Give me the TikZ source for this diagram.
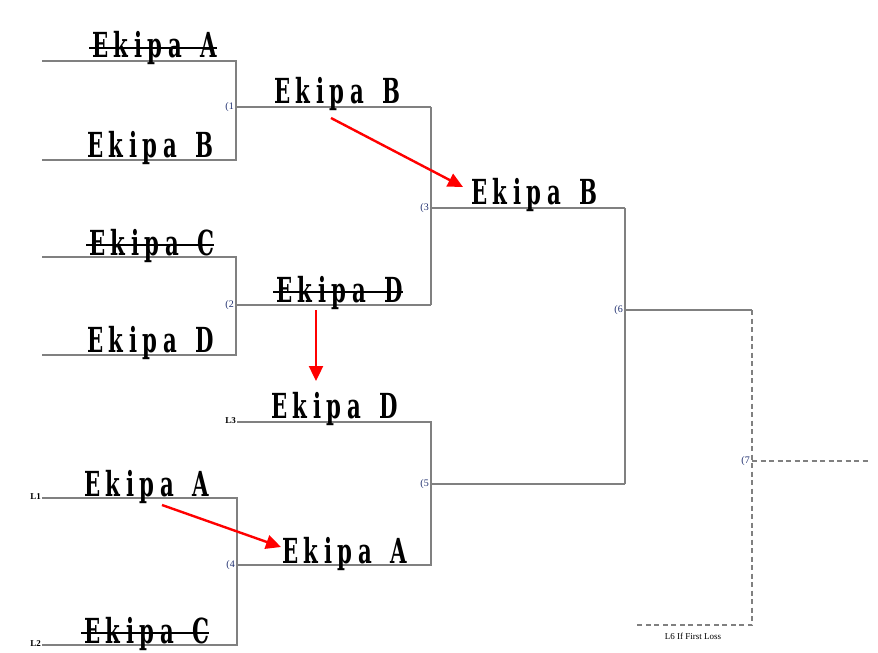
\documentclass[tikz,border=0pt]{standalone}
\usepackage{fontspec}
\usetikzlibrary{arrows.meta}
\newfontfamily\ekfont[LetterSpace=26,WordSpace=1.4]{DejaVu Serif}
\newfontfamily\smallfont{Liberation Serif}
\definecolor{brline}{HTML}{808080}
\definecolor{numblue}{HTML}{1F2F6F}
\tikzset{
  brk/.style={draw=brline, line width=1.1pt},
  brkdash/.style={draw=brline, line width=1.1pt, dash pattern=on 5pt off 3.5pt},
  team/.style={inner sep=0pt, anchor=base west, font=\ekfont\bfseries\fontsize{25}{25}\selectfont},
  strike/.style={draw=black, line width=1.6pt},
  num/.style={inner sep=0pt, anchor=east, text=numblue, font=\smallfont\fontsize{10}{10}\selectfont},
  lbl/.style={inner sep=0pt, anchor=east, text=black, font=\smallfont\bfseries\fontsize{9}{9}\selectfont},
  redarrow/.style={draw=red, line width=2.4pt, -{Triangle[length=15pt,width=14pt]}},
}
\newcommand{\tall}[1]{\scalebox{0.85}[1.38]{#1}}
\begin{document}
\begin{tikzpicture}[x=1pt,y=-1pt]
\useasboundingbox[fill=white] (0,0) rectangle (878,653);

% bracket coordinates
\coordinate (a1) at (42,61);   \coordinate (a2) at (236,61);
\coordinate (b1) at (42,160);  \coordinate (b2) at (236,160);
\coordinate (m1) at (236,107); \coordinate (m1e) at (431,107);
\coordinate (c1) at (42,257);  \coordinate (c2) at (236,257);
\coordinate (d1) at (42,355);  \coordinate (d2) at (236,355);
\coordinate (m2) at (236,305); \coordinate (m2e) at (431,305);
\coordinate (m3) at (431,208); \coordinate (m3e) at (625,208);
\coordinate (l3a) at (237,422); \coordinate (l3b) at (431,422);
\coordinate (m4) at (237,565); \coordinate (m4e) at (431,565);
\coordinate (m5) at (431,484); \coordinate (m5e) at (625,484);
\coordinate (l1a) at (42,498); \coordinate (l1b) at (237,498);
\coordinate (l2a) at (42,645); \coordinate (l2b) at (237,645);
\coordinate (m6) at (625,310); \coordinate (m6e) at (752,310);
\coordinate (m7) at (752,461); \coordinate (m7e) at (870,461);
\coordinate (l6a) at (635,625); \coordinate (l6b) at (752,625);

% bracket lines
\draw[brk] (a1) -- (a2) -- (b2) -- (b1);
\draw[brk] (m1) -- (m1e);
\draw[brk] (c1) -- (c2) -- (d2) -- (d1);
\draw[brk] (m2) -- (m2e);
\draw[brk] (m1e) -- (m2e);
\draw[brk] (m3) -- (m3e);
\draw[brk] (l3a) -- (l3b) -- (m4e) -- (m4);
\draw[brk] (m5) -- (m5e);
\draw[brk] (l1a) -- (l1b) -- (l2b) -- (l2a);
\draw[brk] (m3e) -- (m5e);
\draw[brk] (m6) -- (m6e);
\draw[brkdash] (m6e) -- (l6b) -- (l6a);
\draw[brkdash] (m7) -- (m7e);

% match numbers
\node[num] (n1) at (234,107) {(1};
\node[num] (n2) at (234,305) {(2};
\node[num] (n3) at (429,208) {(3};
\node[num] (n4) at (235,565) {(4};
\node[num] (n5) at (429,484) {(5};
\node[num] (n6) at (623,310) {(6};
\node[num] (n7) at (750,461) {(7};
\node[lbl] (L3) at (236,421) {L3};
\node[lbl] (L1) at (41,497) {L1};
\node[lbl] (L2) at (41,644) {L2};
\node[inner sep=0pt, text=black, font=\smallfont\fontsize{9}{9}\selectfont] (L6) at (693,636) {L6 If First Loss};

% team names
\node[team] (tA1) at (92,57) {\tall{Ekipa A}};
\node[team] (tB1) at (87,157) {\tall{Ekipa B}};
\node[team] (tC1) at (89,255) {\tall{Ekipa C}};
\node[team] (tD1) at (87,352) {\tall{Ekipa D}};
\node[team] (tB2) at (274,103) {\tall{Ekipa B}};
\node[team] (tD2) at (276,302) {\tall{Ekipa D}};
\node[team] (tB3) at (471,204) {\tall{Ekipa B}};
\node[team] (tD3) at (271,418) {\tall{Ekipa D}};
\node[team] (tA3) at (84,496) {\tall{Ekipa A}};
\node[team] (tA4) at (282,563) {\tall{Ekipa A}};
\node[team] (tC3) at (84,643) {\tall{Ekipa C}};

% strikes
\draw[strike] ([xshift=-3pt,yshift=9pt]tA1.base west) -- ([xshift=0pt,yshift=9pt]tA1.base east);
\draw[strike] ([xshift=-3pt,yshift=10pt]tC1.base west) -- ([xshift=0pt,yshift=10pt]tC1.base east);
\draw[strike] ([xshift=-3pt,yshift=10pt]tD2.base west) -- ([xshift=0pt,yshift=10pt]tD2.base east);
\draw[strike] ([xshift=-3pt,yshift=10pt]tC3.base west) -- ([xshift=0pt,yshift=10pt]tC3.base east);

% red arrows
\coordinate (r1s) at (331,118); \coordinate (r1e) at (463,187);
\coordinate (r2s) at (316,310); \coordinate (r2e) at (316,381);
\coordinate (r3s) at (162,505); \coordinate (r3e) at (281,547);
\draw[redarrow] (r1s) -- (r1e);
\draw[redarrow] (r2s) -- (r2e);
\draw[redarrow] (r3s) -- (r3e);
\end{tikzpicture}
\end{document}
